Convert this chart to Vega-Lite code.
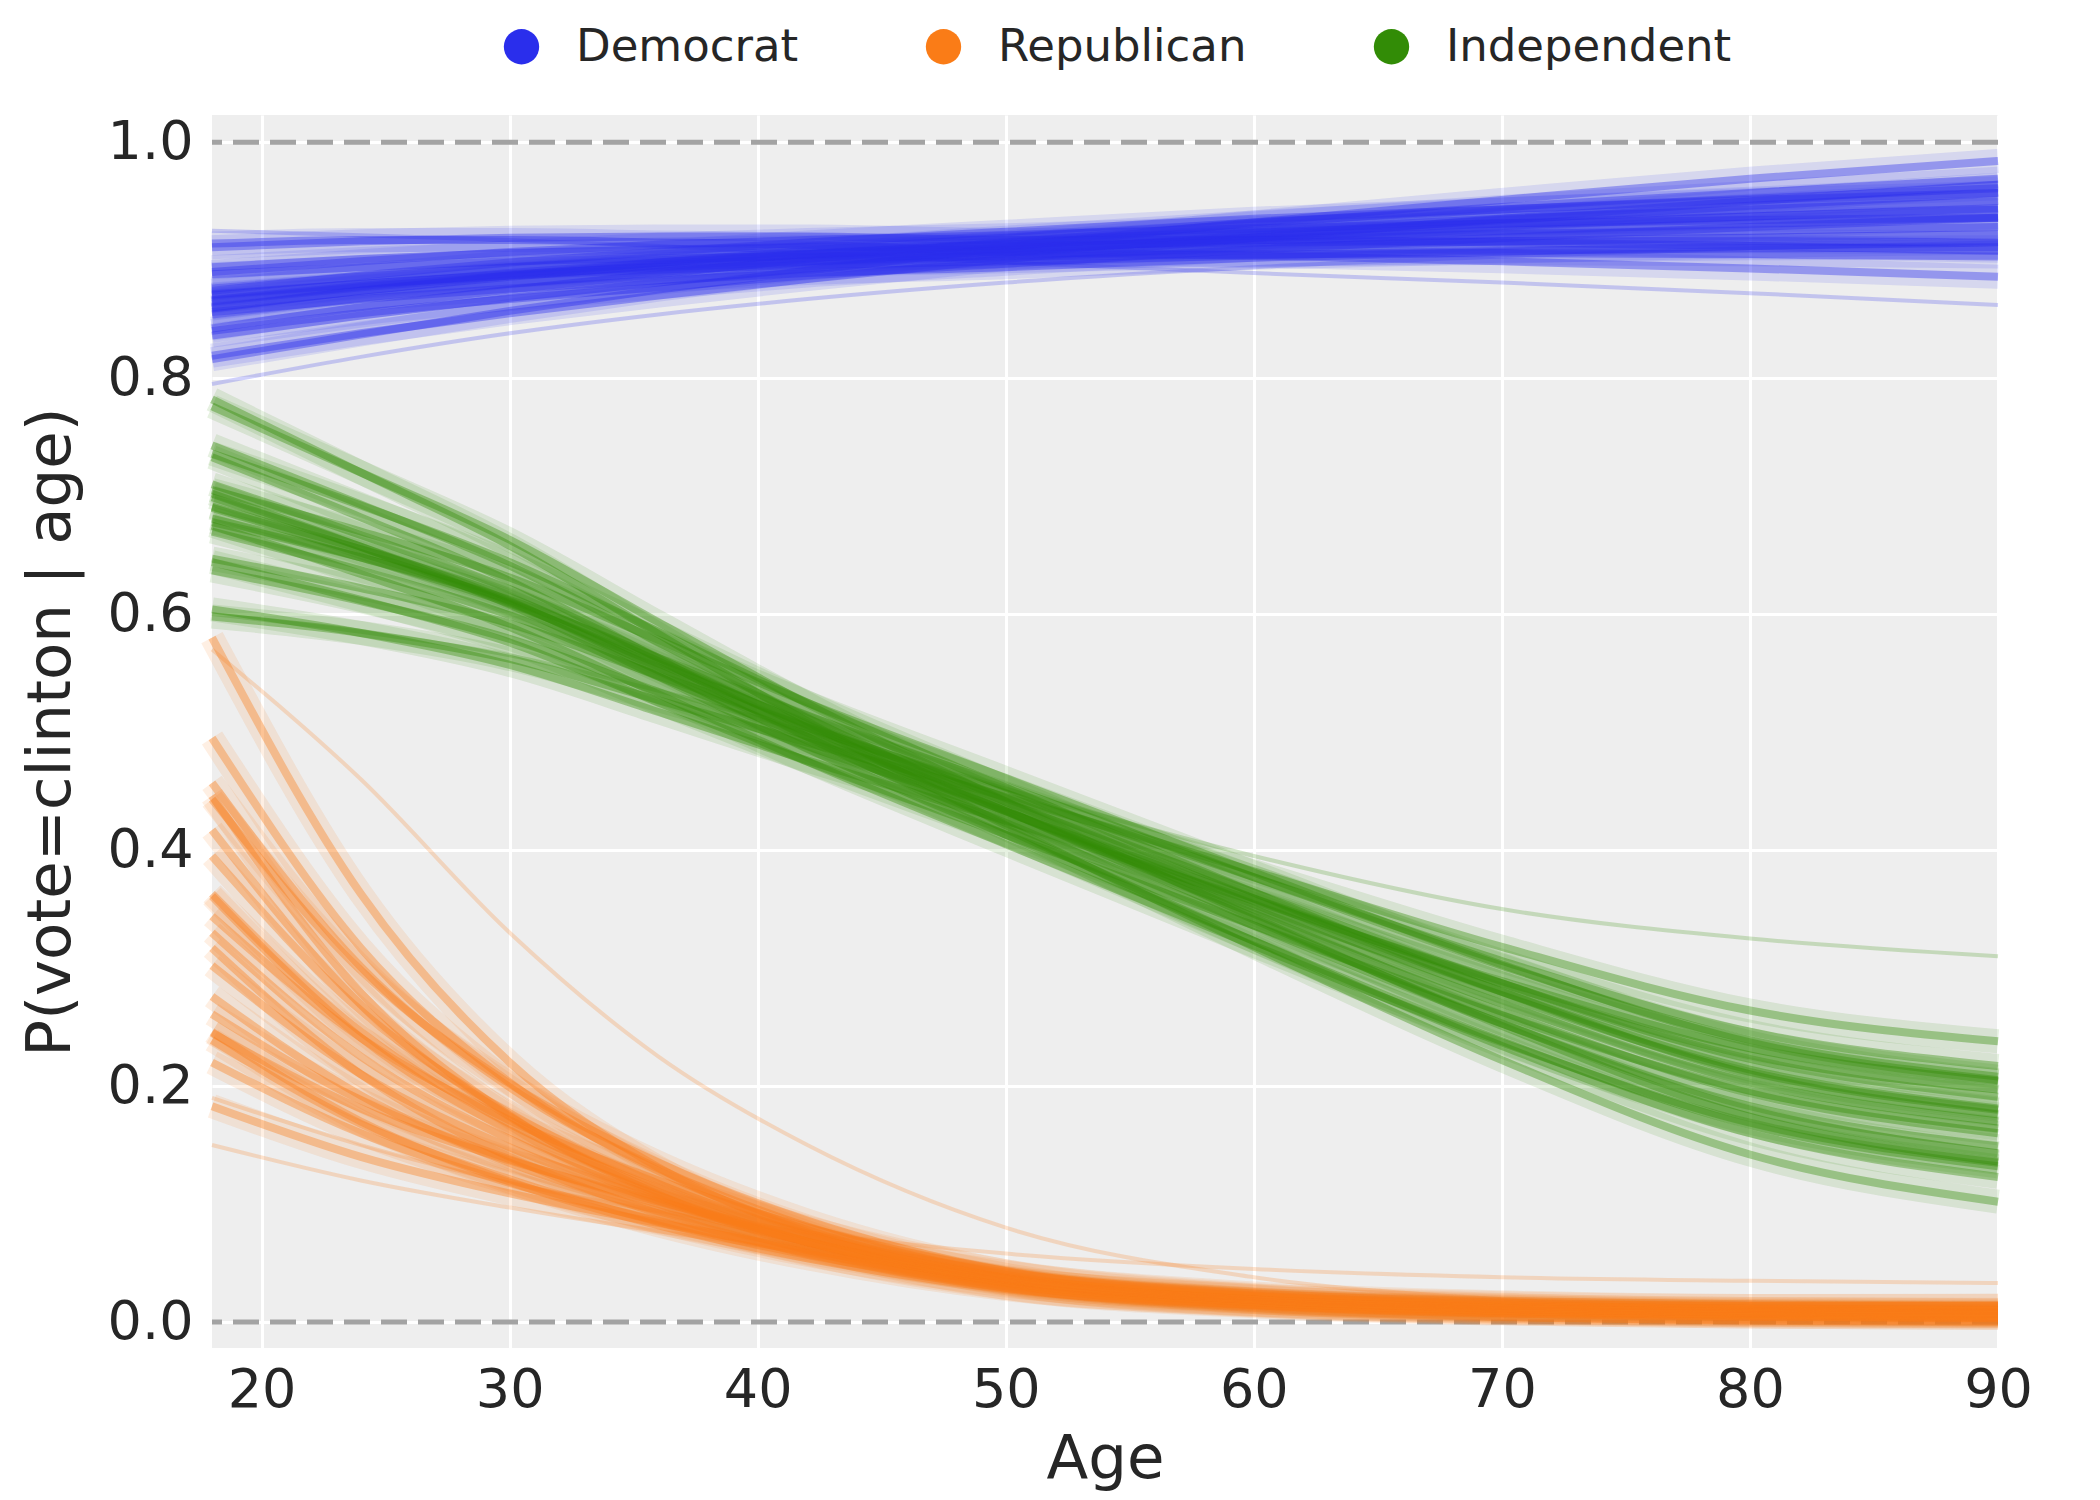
{
  "$schema": "https://vega.github.io/schema/vega-lite/v6.json",
  "width": 1786,
  "height": 1233,
  "autosize": "none",
  "padding": {"left": 212, "top": 115, "right": 102, "bottom": 152},
  "background": "#ffffff",
  "datasets": {
    "refs": [{"y": 0}, {"y": 1}],
    "curves": [
      {"party":"Democrat","draw":1,"age":18,"p":0.865},{"party":"Democrat","draw":1,"age":24,"p":0.877},{"party":"Democrat","draw":1,"age":30,"p":0.887},{"party":"Democrat","draw":1,"age":36,"p":0.895},{"party":"Democrat","draw":1,"age":42,"p":0.902},{"party":"Democrat","draw":1,"age":50,"p":0.909},{"party":"Democrat","draw":1,"age":60,"p":0.918},{"party":"Democrat","draw":1,"age":70,"p":0.925},{"party":"Democrat","draw":1,"age":80,"p":0.931},{"party":"Democrat","draw":1,"age":90,"p":0.936},
      {"party":"Democrat","draw":2,"age":18,"p":0.860},{"party":"Democrat","draw":2,"age":24,"p":0.874},{"party":"Democrat","draw":2,"age":30,"p":0.886},{"party":"Democrat","draw":2,"age":36,"p":0.896},{"party":"Democrat","draw":2,"age":42,"p":0.905},{"party":"Democrat","draw":2,"age":50,"p":0.914},{"party":"Democrat","draw":2,"age":60,"p":0.925},{"party":"Democrat","draw":2,"age":70,"p":0.935},{"party":"Democrat","draw":2,"age":80,"p":0.943},{"party":"Democrat","draw":2,"age":90,"p":0.950},
      {"party":"Democrat","draw":3,"age":18,"p":0.870},{"party":"Democrat","draw":3,"age":24,"p":0.880},{"party":"Democrat","draw":3,"age":30,"p":0.888},{"party":"Democrat","draw":3,"age":36,"p":0.894},{"party":"Democrat","draw":3,"age":42,"p":0.899},{"party":"Democrat","draw":3,"age":50,"p":0.904},{"party":"Democrat","draw":3,"age":60,"p":0.911},{"party":"Democrat","draw":3,"age":70,"p":0.916},{"party":"Democrat","draw":3,"age":80,"p":0.919},{"party":"Democrat","draw":3,"age":90,"p":0.922},
      {"party":"Democrat","draw":4,"age":18,"p":0.894},{"party":"Democrat","draw":4,"age":24,"p":0.901},{"party":"Democrat","draw":4,"age":30,"p":0.906},{"party":"Democrat","draw":4,"age":36,"p":0.909},{"party":"Democrat","draw":4,"age":42,"p":0.911},{"party":"Democrat","draw":4,"age":50,"p":0.912},{"party":"Democrat","draw":4,"age":60,"p":0.915},{"party":"Democrat","draw":4,"age":70,"p":0.916},{"party":"Democrat","draw":4,"age":80,"p":0.916},{"party":"Democrat","draw":4,"age":90,"p":0.915},
      {"party":"Democrat","draw":5,"age":18,"p":0.836},{"party":"Democrat","draw":5,"age":24,"p":0.853},{"party":"Democrat","draw":5,"age":30,"p":0.868},{"party":"Democrat","draw":5,"age":36,"p":0.881},{"party":"Democrat","draw":5,"age":42,"p":0.893},{"party":"Democrat","draw":5,"age":50,"p":0.906},{"party":"Democrat","draw":5,"age":60,"p":0.921},{"party":"Democrat","draw":5,"age":70,"p":0.934},{"party":"Democrat","draw":5,"age":80,"p":0.946},{"party":"Democrat","draw":5,"age":90,"p":0.957},
      {"party":"Democrat","draw":6,"age":18,"p":0.859},{"party":"Democrat","draw":6,"age":24,"p":0.874},{"party":"Democrat","draw":6,"age":30,"p":0.887},{"party":"Democrat","draw":6,"age":36,"p":0.898},{"party":"Democrat","draw":6,"age":42,"p":0.908},{"party":"Democrat","draw":6,"age":50,"p":0.919},{"party":"Democrat","draw":6,"age":60,"p":0.932},{"party":"Democrat","draw":6,"age":70,"p":0.943},{"party":"Democrat","draw":6,"age":80,"p":0.952},{"party":"Democrat","draw":6,"age":90,"p":0.961},
      {"party":"Democrat","draw":7,"age":18,"p":0.871},{"party":"Democrat","draw":7,"age":24,"p":0.880},{"party":"Democrat","draw":7,"age":30,"p":0.887},{"party":"Democrat","draw":7,"age":36,"p":0.892},{"party":"Democrat","draw":7,"age":42,"p":0.896},{"party":"Democrat","draw":7,"age":50,"p":0.899},{"party":"Democrat","draw":7,"age":60,"p":0.904},{"party":"Democrat","draw":7,"age":70,"p":0.908},{"party":"Democrat","draw":7,"age":80,"p":0.910},{"party":"Democrat","draw":7,"age":90,"p":0.911},
      {"party":"Democrat","draw":8,"age":18,"p":0.911},{"party":"Democrat","draw":8,"age":24,"p":0.916},{"party":"Democrat","draw":8,"age":30,"p":0.919},{"party":"Democrat","draw":8,"age":36,"p":0.920},{"party":"Democrat","draw":8,"age":42,"p":0.920},{"party":"Democrat","draw":8,"age":50,"p":0.917},{"party":"Democrat","draw":8,"age":60,"p":0.917},{"party":"Democrat","draw":8,"age":70,"p":0.915},{"party":"Democrat","draw":8,"age":80,"p":0.912},{"party":"Democrat","draw":8,"age":90,"p":0.908},
      {"party":"Democrat","draw":9,"age":18,"p":0.819},{"party":"Democrat","draw":9,"age":24,"p":0.838},{"party":"Democrat","draw":9,"age":30,"p":0.855},{"party":"Democrat","draw":9,"age":36,"p":0.870},{"party":"Democrat","draw":9,"age":42,"p":0.884},{"party":"Democrat","draw":9,"age":50,"p":0.901},{"party":"Democrat","draw":9,"age":60,"p":0.919},{"party":"Democrat","draw":9,"age":70,"p":0.935},{"party":"Democrat","draw":9,"age":80,"p":0.950},{"party":"Democrat","draw":9,"age":90,"p":0.964},
      {"party":"Democrat","draw":10,"age":18,"p":0.874},{"party":"Democrat","draw":10,"age":24,"p":0.887},{"party":"Democrat","draw":10,"age":30,"p":0.898},{"party":"Democrat","draw":10,"age":36,"p":0.907},{"party":"Democrat","draw":10,"age":42,"p":0.915},{"party":"Democrat","draw":10,"age":50,"p":0.924},{"party":"Democrat","draw":10,"age":60,"p":0.935},{"party":"Democrat","draw":10,"age":70,"p":0.943},{"party":"Democrat","draw":10,"age":80,"p":0.951},{"party":"Democrat","draw":10,"age":90,"p":0.957},
      {"party":"Democrat","draw":11,"age":18,"p":0.856},{"party":"Democrat","draw":11,"age":24,"p":0.867},{"party":"Democrat","draw":11,"age":30,"p":0.876},{"party":"Democrat","draw":11,"age":36,"p":0.883},{"party":"Democrat","draw":11,"age":42,"p":0.889},{"party":"Democrat","draw":11,"age":50,"p":0.894},{"party":"Democrat","draw":11,"age":60,"p":0.902},{"party":"Democrat","draw":11,"age":70,"p":0.907},{"party":"Democrat","draw":11,"age":80,"p":0.912},{"party":"Democrat","draw":11,"age":90,"p":0.915},
      {"party":"Democrat","draw":12,"age":18,"p":0.816},{"party":"Democrat","draw":12,"age":24,"p":0.837},{"party":"Democrat","draw":12,"age":30,"p":0.857},{"party":"Democrat","draw":12,"age":36,"p":0.875},{"party":"Democrat","draw":12,"age":42,"p":0.891},{"party":"Democrat","draw":12,"age":50,"p":0.911},{"party":"Democrat","draw":12,"age":60,"p":0.932},{"party":"Democrat","draw":12,"age":70,"p":0.951},{"party":"Democrat","draw":12,"age":80,"p":0.969},{"party":"Democrat","draw":12,"age":90,"p":0.984},
      {"party":"Democrat","draw":13,"age":18,"p":0.914},{"party":"Democrat","draw":13,"age":24,"p":0.917},{"party":"Democrat","draw":13,"age":30,"p":0.917},{"party":"Democrat","draw":13,"age":36,"p":0.915},{"party":"Democrat","draw":13,"age":42,"p":0.913},{"party":"Democrat","draw":13,"age":50,"p":0.907},{"party":"Democrat","draw":13,"age":60,"p":0.904},{"party":"Democrat","draw":13,"age":70,"p":0.899},{"party":"Democrat","draw":13,"age":80,"p":0.893},{"party":"Democrat","draw":13,"age":90,"p":0.886},
      {"party":"Democrat","draw":14,"age":18,"p":0.842},{"party":"Democrat","draw":14,"age":24,"p":0.860},{"party":"Democrat","draw":14,"age":30,"p":0.875},{"party":"Democrat","draw":14,"age":36,"p":0.888},{"party":"Democrat","draw":14,"age":42,"p":0.901},{"party":"Democrat","draw":14,"age":50,"p":0.915},{"party":"Democrat","draw":14,"age":60,"p":0.931},{"party":"Democrat","draw":14,"age":70,"p":0.945},{"party":"Democrat","draw":14,"age":80,"p":0.957},{"party":"Democrat","draw":14,"age":90,"p":0.969},
      {"party":"Democrat","draw":15,"age":18,"p":0.888},{"party":"Democrat","draw":15,"age":24,"p":0.894},{"party":"Democrat","draw":15,"age":30,"p":0.899},{"party":"Democrat","draw":15,"age":36,"p":0.902},{"party":"Democrat","draw":15,"age":42,"p":0.903},{"party":"Democrat","draw":15,"age":50,"p":0.903},{"party":"Democrat","draw":15,"age":60,"p":0.905},{"party":"Democrat","draw":15,"age":70,"p":0.906},{"party":"Democrat","draw":15,"age":80,"p":0.905},{"party":"Democrat","draw":15,"age":90,"p":0.903},
      {"party":"Democrat","draw":16,"age":18,"p":0.890},{"party":"Democrat","draw":16,"age":24,"p":0.899},{"party":"Democrat","draw":16,"age":30,"p":0.907},{"party":"Democrat","draw":16,"age":36,"p":0.913},{"party":"Democrat","draw":16,"age":42,"p":0.917},{"party":"Democrat","draw":16,"age":50,"p":0.921},{"party":"Democrat","draw":16,"age":60,"p":0.927},{"party":"Democrat","draw":16,"age":70,"p":0.931},{"party":"Democrat","draw":16,"age":80,"p":0.934},{"party":"Democrat","draw":16,"age":90,"p":0.936},
      {"party":"Democrat","draw":17,"age":18,"p":0.840},{"party":"Democrat","draw":17,"age":24,"p":0.855},{"party":"Democrat","draw":17,"age":30,"p":0.867},{"party":"Democrat","draw":17,"age":36,"p":0.877},{"party":"Democrat","draw":17,"age":42,"p":0.887},{"party":"Democrat","draw":17,"age":50,"p":0.897},{"party":"Democrat","draw":17,"age":60,"p":0.909},{"party":"Democrat","draw":17,"age":70,"p":0.919},{"party":"Democrat","draw":17,"age":80,"p":0.928},{"party":"Democrat","draw":17,"age":90,"p":0.936},
      {"party":"Democrat","draw":18,"age":18,"p":0.876},{"party":"Democrat","draw":18,"age":24,"p":0.886},{"party":"Democrat","draw":18,"age":30,"p":0.894},{"party":"Democrat","draw":18,"age":36,"p":0.900},{"party":"Democrat","draw":18,"age":42,"p":0.905},{"party":"Democrat","draw":18,"age":50,"p":0.910},{"party":"Democrat","draw":18,"age":60,"p":0.917},{"party":"Democrat","draw":18,"age":70,"p":0.922},{"party":"Democrat","draw":18,"age":80,"p":0.925},{"party":"Democrat","draw":18,"age":90,"p":0.928},
      {"party":"Democrat","draw":19,"age":18,"p":0.854},{"party":"Democrat","draw":19,"age":24,"p":0.868},{"party":"Democrat","draw":19,"age":30,"p":0.880},{"party":"Democrat","draw":19,"age":36,"p":0.890},{"party":"Democrat","draw":19,"age":42,"p":0.899},{"party":"Democrat","draw":19,"age":50,"p":0.908},{"party":"Democrat","draw":19,"age":60,"p":0.919},{"party":"Democrat","draw":19,"age":70,"p":0.929},{"party":"Democrat","draw":19,"age":80,"p":0.937},{"party":"Democrat","draw":19,"age":90,"p":0.944},
      {"party":"Democrat","draw":20,"age":18,"p":0.866},{"party":"Democrat","draw":20,"age":24,"p":0.878},{"party":"Democrat","draw":20,"age":30,"p":0.889},{"party":"Democrat","draw":20,"age":36,"p":0.898},{"party":"Democrat","draw":20,"age":42,"p":0.905},{"party":"Democrat","draw":20,"age":50,"p":0.913},{"party":"Democrat","draw":20,"age":60,"p":0.923},{"party":"Democrat","draw":20,"age":70,"p":0.931},{"party":"Democrat","draw":20,"age":80,"p":0.937},{"party":"Democrat","draw":20,"age":90,"p":0.943},
      {"party":"Democrat","draw":21,"age":18,"p":0.795},{"party":"Democrat","draw":21,"age":24,"p":0.818},{"party":"Democrat","draw":21,"age":30,"p":0.838},{"party":"Democrat","draw":21,"age":36,"p":0.854},{"party":"Democrat","draw":21,"age":42,"p":0.867},{"party":"Democrat","draw":21,"age":50,"p":0.881},{"party":"Democrat","draw":21,"age":60,"p":0.894},{"party":"Democrat","draw":21,"age":70,"p":0.903},{"party":"Democrat","draw":21,"age":80,"p":0.910},{"party":"Democrat","draw":21,"age":90,"p":0.915},
      {"party":"Democrat","draw":22,"age":18,"p":0.925},{"party":"Democrat","draw":22,"age":24,"p":0.921},{"party":"Democrat","draw":22,"age":30,"p":0.917},{"party":"Democrat","draw":22,"age":36,"p":0.912},{"party":"Democrat","draw":22,"age":42,"p":0.906},{"party":"Democrat","draw":22,"age":50,"p":0.898},{"party":"Democrat","draw":22,"age":60,"p":0.889},{"party":"Democrat","draw":22,"age":70,"p":0.881},{"party":"Democrat","draw":22,"age":80,"p":0.872},{"party":"Democrat","draw":22,"age":90,"p":0.862},

      {"party":"Republican","draw":1,"age":18,"p":0.330},{"party":"Republican","draw":1,"age":24,"p":0.225},{"party":"Republican","draw":1,"age":30,"p":0.155},{"party":"Republican","draw":1,"age":36,"p":0.105},{"party":"Republican","draw":1,"age":42,"p":0.068},{"party":"Republican","draw":1,"age":50,"p":0.035},{"party":"Republican","draw":1,"age":60,"p":0.018},{"party":"Republican","draw":1,"age":70,"p":0.011},{"party":"Republican","draw":1,"age":80,"p":0.008},{"party":"Republican","draw":1,"age":90,"p":0.007},
      {"party":"Republican","draw":2,"age":18,"p":0.395},{"party":"Republican","draw":2,"age":24,"p":0.264},{"party":"Republican","draw":2,"age":30,"p":0.177},{"party":"Republican","draw":2,"age":36,"p":0.117},{"party":"Republican","draw":2,"age":42,"p":0.074},{"party":"Republican","draw":2,"age":50,"p":0.037},{"party":"Republican","draw":2,"age":60,"p":0.0185},{"party":"Republican","draw":2,"age":70,"p":0.011},{"party":"Republican","draw":2,"age":80,"p":0.0078},{"party":"Republican","draw":2,"age":90,"p":0.0066},
      {"party":"Republican","draw":3,"age":18,"p":0.276},{"party":"Republican","draw":3,"age":24,"p":0.192},{"party":"Republican","draw":3,"age":30,"p":0.135},{"party":"Republican","draw":3,"age":36,"p":0.094},{"party":"Republican","draw":3,"age":42,"p":0.062},{"party":"Republican","draw":3,"age":50,"p":0.033},{"party":"Republican","draw":3,"age":60,"p":0.0175},{"party":"Republican","draw":3,"age":70,"p":0.011},{"party":"Republican","draw":3,"age":80,"p":0.0082},{"party":"Republican","draw":3,"age":90,"p":0.0074},
      {"party":"Republican","draw":4,"age":18,"p":0.261},{"party":"Republican","draw":4,"age":24,"p":0.188},{"party":"Republican","draw":4,"age":30,"p":0.138},{"party":"Republican","draw":4,"age":36,"p":0.100},{"party":"Republican","draw":4,"age":42,"p":0.068},{"party":"Republican","draw":4,"age":50,"p":0.038},{"party":"Republican","draw":4,"age":60,"p":0.0212},{"party":"Republican","draw":4,"age":70,"p":0.0141},{"party":"Republican","draw":4,"age":80,"p":0.0111},{"party":"Republican","draw":4,"age":90,"p":0.0105},
      {"party":"Republican","draw":5,"age":18,"p":0.417},{"party":"Republican","draw":5,"age":24,"p":0.269},{"party":"Republican","draw":5,"age":30,"p":0.174},{"party":"Republican","draw":5,"age":36,"p":0.110},{"party":"Republican","draw":5,"age":42,"p":0.068},{"party":"Republican","draw":5,"age":50,"p":0.032},{"party":"Republican","draw":5,"age":60,"p":0.0153},{"party":"Republican","draw":5,"age":70,"p":0.0086},{"party":"Republican","draw":5,"age":80,"p":0.0058},{"party":"Republican","draw":5,"age":90,"p":0.0047},
      {"party":"Republican","draw":6,"age":18,"p":0.457},{"party":"Republican","draw":6,"age":24,"p":0.301},{"party":"Republican","draw":6,"age":30,"p":0.199},{"party":"Republican","draw":6,"age":36,"p":0.130},{"party":"Republican","draw":6,"age":42,"p":0.081},{"party":"Republican","draw":6,"age":50,"p":0.040},{"party":"Republican","draw":6,"age":60,"p":0.0194},{"party":"Republican","draw":6,"age":70,"p":0.0113},{"party":"Republican","draw":6,"age":80,"p":0.0078},{"party":"Republican","draw":6,"age":90,"p":0.0065},
      {"party":"Republican","draw":7,"age":18,"p":0.239},{"party":"Republican","draw":7,"age":24,"p":0.168},{"party":"Republican","draw":7,"age":30,"p":0.121},{"party":"Republican","draw":7,"age":36,"p":0.085},{"party":"Republican","draw":7,"age":42,"p":0.057},{"party":"Republican","draw":7,"age":50,"p":0.031},{"party":"Republican","draw":7,"age":60,"p":0.0167},{"party":"Republican","draw":7,"age":70,"p":0.0107},{"party":"Republican","draw":7,"age":80,"p":0.0082},{"party":"Republican","draw":7,"age":90,"p":0.0075},
      {"party":"Republican","draw":8,"age":18,"p":0.245},{"party":"Republican","draw":8,"age":24,"p":0.181},{"party":"Republican","draw":8,"age":30,"p":0.137},{"party":"Republican","draw":8,"age":36,"p":0.102},{"party":"Republican","draw":8,"age":42,"p":0.072},{"party":"Republican","draw":8,"age":50,"p":0.042},{"party":"Republican","draw":8,"age":60,"p":0.0243},{"party":"Republican","draw":8,"age":70,"p":0.0167},{"party":"Republican","draw":8,"age":80,"p":0.0137},{"party":"Republican","draw":8,"age":90,"p":0.0135},
      {"party":"Republican","draw":9,"age":18,"p":0.446},{"party":"Republican","draw":9,"age":24,"p":0.279},{"party":"Republican","draw":9,"age":30,"p":0.175},{"party":"Republican","draw":9,"age":36,"p":0.108},{"party":"Republican","draw":9,"age":42,"p":0.064},{"party":"Republican","draw":9,"age":50,"p":0.029},{"party":"Republican","draw":9,"age":60,"p":0.0133},{"party":"Republican","draw":9,"age":70,"p":0.0072},{"party":"Republican","draw":9,"age":80,"p":0.0047},{"party":"Republican","draw":9,"age":90,"p":0.0036},
      {"party":"Republican","draw":10,"age":18,"p":0.443},{"party":"Republican","draw":10,"age":24,"p":0.298},{"party":"Republican","draw":10,"age":30,"p":0.202},{"party":"Republican","draw":10,"age":36,"p":0.135},{"party":"Republican","draw":10,"age":42,"p":0.086},{"party":"Republican","draw":10,"age":50,"p":0.043},{"party":"Republican","draw":10,"age":60,"p":0.0219},{"party":"Republican","draw":10,"age":70,"p":0.0131},{"party":"Republican","draw":10,"age":80,"p":0.0093},{"party":"Republican","draw":10,"age":90,"p":0.008},
      {"party":"Republican","draw":11,"age":18,"p":0.246},{"party":"Republican","draw":11,"age":24,"p":0.170},{"party":"Republican","draw":11,"age":30,"p":0.119},{"party":"Republican","draw":11,"age":36,"p":0.082},{"party":"Republican","draw":11,"age":42,"p":0.054},{"party":"Republican","draw":11,"age":50,"p":0.028},{"party":"Republican","draw":11,"age":60,"p":0.0148},{"party":"Republican","draw":11,"age":70,"p":0.0092},{"party":"Republican","draw":11,"age":80,"p":0.0068},{"party":"Republican","draw":11,"age":90,"p":0.0061},
      {"party":"Republican","draw":12,"age":18,"p":0.580},{"party":"Republican","draw":12,"age":24,"p":0.363},{"party":"Republican","draw":12,"age":30,"p":0.220},{"party":"Republican","draw":12,"age":36,"p":0.131},{"party":"Republican","draw":12,"age":42,"p":0.076},{"party":"Republican","draw":12,"age":50,"p":0.033},{"party":"Republican","draw":12,"age":60,"p":0.0146},{"party":"Republican","draw":12,"age":70,"p":0.0076},{"party":"Republican","draw":12,"age":80,"p":0.0047},{"party":"Republican","draw":12,"age":90,"p":0.0035},
      {"party":"Republican","draw":13,"age":18,"p":0.183},{"party":"Republican","draw":13,"age":24,"p":0.140},{"party":"Republican","draw":13,"age":30,"p":0.109},{"party":"Republican","draw":13,"age":36,"p":0.084},{"party":"Republican","draw":13,"age":42,"p":0.061},{"party":"Republican","draw":13,"age":50,"p":0.037},{"party":"Republican","draw":13,"age":60,"p":0.0222},{"party":"Republican","draw":13,"age":70,"p":0.0159},{"party":"Republican","draw":13,"age":80,"p":0.0136},{"party":"Republican","draw":13,"age":90,"p":0.014},
      {"party":"Republican","draw":14,"age":18,"p":0.495},{"party":"Republican","draw":14,"age":24,"p":0.317},{"party":"Republican","draw":14,"age":30,"p":0.203},{"party":"Republican","draw":14,"age":36,"p":0.128},{"party":"Republican","draw":14,"age":42,"p":0.078},{"party":"Republican","draw":14,"age":50,"p":0.037},{"party":"Republican","draw":14,"age":60,"p":0.0172},{"party":"Republican","draw":14,"age":70,"p":0.0096},{"party":"Republican","draw":14,"age":80,"p":0.0064},{"party":"Republican","draw":14,"age":90,"p":0.0051},
      {"party":"Republican","draw":15,"age":18,"p":0.220},{"party":"Republican","draw":15,"age":24,"p":0.160},{"party":"Republican","draw":15,"age":30,"p":0.118},{"party":"Republican","draw":15,"age":36,"p":0.086},{"party":"Republican","draw":15,"age":42,"p":0.059},{"party":"Republican","draw":15,"age":50,"p":0.034},{"party":"Republican","draw":15,"age":60,"p":0.0188},{"party":"Republican","draw":15,"age":70,"p":0.0126},{"party":"Republican","draw":15,"age":80,"p":0.010},{"party":"Republican","draw":15,"age":90,"p":0.0096},
      {"party":"Republican","draw":16,"age":18,"p":0.344},{"party":"Republican","draw":16,"age":24,"p":0.241},{"party":"Republican","draw":16,"age":30,"p":0.171},{"party":"Republican","draw":16,"age":36,"p":0.120},{"party":"Republican","draw":16,"age":42,"p":0.080},{"party":"Republican","draw":16,"age":50,"p":0.043},{"party":"Republican","draw":16,"age":60,"p":0.0229},{"party":"Republican","draw":16,"age":70,"p":0.0146},{"party":"Republican","draw":16,"age":80,"p":0.011},{"party":"Republican","draw":16,"age":90,"p":0.010},
      {"party":"Republican","draw":17,"age":18,"p":0.317},{"party":"Republican","draw":17,"age":24,"p":0.210},{"party":"Republican","draw":17,"age":30,"p":0.140},{"party":"Republican","draw":17,"age":36,"p":0.092},{"party":"Republican","draw":17,"age":42,"p":0.058},{"party":"Republican","draw":17,"age":50,"p":0.029},{"party":"Republican","draw":17,"age":60,"p":0.0142},{"party":"Republican","draw":17,"age":70,"p":0.0083},{"party":"Republican","draw":17,"age":80,"p":0.0058},{"party":"Republican","draw":17,"age":90,"p":0.0049},
      {"party":"Republican","draw":18,"age":18,"p":0.302},{"party":"Republican","draw":18,"age":24,"p":0.210},{"party":"Republican","draw":18,"age":30,"p":0.148},{"party":"Republican","draw":18,"age":36,"p":0.103},{"party":"Republican","draw":18,"age":42,"p":0.068},{"party":"Republican","draw":18,"age":50,"p":0.036},{"party":"Republican","draw":18,"age":60,"p":0.0191},{"party":"Republican","draw":18,"age":70,"p":0.012},{"party":"Republican","draw":18,"age":80,"p":0.009},{"party":"Republican","draw":18,"age":90,"p":0.0081},
      {"party":"Republican","draw":19,"age":18,"p":0.361},{"party":"Republican","draw":19,"age":24,"p":0.241},{"party":"Republican","draw":19,"age":30,"p":0.162},{"party":"Republican","draw":19,"age":36,"p":0.107},{"party":"Republican","draw":19,"age":42,"p":0.068},{"party":"Republican","draw":19,"age":50,"p":0.034},{"party":"Republican","draw":19,"age":60,"p":0.017},{"party":"Republican","draw":19,"age":70,"p":0.010},{"party":"Republican","draw":19,"age":80,"p":0.0071},{"party":"Republican","draw":19,"age":90,"p":0.006},
      {"party":"Republican","draw":20,"age":18,"p":0.363},{"party":"Republican","draw":20,"age":24,"p":0.246},{"party":"Republican","draw":20,"age":30,"p":0.168},{"party":"Republican","draw":20,"age":36,"p":0.113},{"party":"Republican","draw":20,"age":42,"p":0.073},{"party":"Republican","draw":20,"age":50,"p":0.037},{"party":"Republican","draw":20,"age":60,"p":0.0188},{"party":"Republican","draw":20,"age":70,"p":0.0114},{"party":"Republican","draw":20,"age":80,"p":0.0082},{"party":"Republican","draw":20,"age":90,"p":0.0071},
      {"party":"Republican","draw":21,"age":18,"p":0.570},{"party":"Republican","draw":21,"age":24,"p":0.460},{"party":"Republican","draw":21,"age":30,"p":0.330},{"party":"Republican","draw":21,"age":36,"p":0.225},{"party":"Republican","draw":21,"age":42,"p":0.150},{"party":"Republican","draw":21,"age":50,"p":0.080},{"party":"Republican","draw":21,"age":60,"p":0.038},{"party":"Republican","draw":21,"age":70,"p":0.019},{"party":"Republican","draw":21,"age":80,"p":0.010},{"party":"Republican","draw":21,"age":90,"p":0.006},
      {"party":"Republican","draw":22,"age":18,"p":0.150},{"party":"Republican","draw":22,"age":24,"p":0.120},{"party":"Republican","draw":22,"age":30,"p":0.097},{"party":"Republican","draw":22,"age":36,"p":0.077},{"party":"Republican","draw":22,"age":42,"p":0.059},{"party":"Republican","draw":22,"age":50,"p":0.038},{"party":"Republican","draw":22,"age":60,"p":0.023},{"party":"Republican","draw":22,"age":70,"p":0.016},{"party":"Republican","draw":22,"age":80,"p":0.013},{"party":"Republican","draw":22,"age":90,"p":0.012},
      {"party":"Republican","draw":23,"age":18,"p":0.190},{"party":"Republican","draw":23,"age":24,"p":0.150},{"party":"Republican","draw":23,"age":30,"p":0.118},{"party":"Republican","draw":23,"age":36,"p":0.094},{"party":"Republican","draw":23,"age":42,"p":0.076},{"party":"Republican","draw":23,"age":50,"p":0.058},{"party":"Republican","draw":23,"age":60,"p":0.045},{"party":"Republican","draw":23,"age":70,"p":0.038},{"party":"Republican","draw":23,"age":80,"p":0.035},{"party":"Republican","draw":23,"age":90,"p":0.033},

      {"party":"Independent","draw":1,"age":18,"p":0.690},{"party":"Independent","draw":1,"age":24,"p":0.652},{"party":"Independent","draw":1,"age":30,"p":0.610},{"party":"Independent","draw":1,"age":36,"p":0.555},{"party":"Independent","draw":1,"age":42,"p":0.500},{"party":"Independent","draw":1,"age":50,"p":0.433},{"party":"Independent","draw":1,"age":60,"p":0.350},{"party":"Independent","draw":1,"age":70,"p":0.270},{"party":"Independent","draw":1,"age":80,"p":0.203},{"party":"Independent","draw":1,"age":90,"p":0.170},
      {"party":"Independent","draw":2,"age":18,"p":0.681},{"party":"Independent","draw":2,"age":24,"p":0.648},{"party":"Independent","draw":2,"age":30,"p":0.609},{"party":"Independent","draw":2,"age":36,"p":0.558},{"party":"Independent","draw":2,"age":42,"p":0.507},{"party":"Independent","draw":2,"age":50,"p":0.444},{"party":"Independent","draw":2,"age":60,"p":0.364},{"party":"Independent","draw":2,"age":70,"p":0.287},{"party":"Independent","draw":2,"age":80,"p":0.223},{"party":"Independent","draw":2,"age":90,"p":0.191},
      {"party":"Independent","draw":3,"age":18,"p":0.699},{"party":"Independent","draw":3,"age":24,"p":0.657},{"party":"Independent","draw":3,"age":30,"p":0.611},{"party":"Independent","draw":3,"age":36,"p":0.552},{"party":"Independent","draw":3,"age":42,"p":0.493},{"party":"Independent","draw":3,"age":50,"p":0.423},{"party":"Independent","draw":3,"age":60,"p":0.336},{"party":"Independent","draw":3,"age":70,"p":0.253},{"party":"Independent","draw":3,"age":80,"p":0.183},{"party":"Independent","draw":3,"age":90,"p":0.149},
      {"party":"Independent","draw":4,"age":18,"p":0.743},{"party":"Independent","draw":4,"age":24,"p":0.693},{"party":"Independent","draw":4,"age":30,"p":0.641},{"party":"Independent","draw":4,"age":36,"p":0.576},{"party":"Independent","draw":4,"age":42,"p":0.512},{"party":"Independent","draw":4,"age":50,"p":0.434},{"party":"Independent","draw":4,"age":60,"p":0.341},{"party":"Independent","draw":4,"age":70,"p":0.253},{"party":"Independent","draw":4,"age":80,"p":0.180},{"party":"Independent","draw":4,"age":90,"p":0.143},
      {"party":"Independent","draw":5,"age":18,"p":0.637},{"party":"Independent","draw":5,"age":24,"p":0.611},{"party":"Independent","draw":5,"age":30,"p":0.579},{"party":"Independent","draw":5,"age":36,"p":0.534},{"party":"Independent","draw":5,"age":42,"p":0.488},{"party":"Independent","draw":5,"age":50,"p":0.432},{"party":"Independent","draw":5,"age":60,"p":0.359},{"party":"Independent","draw":5,"age":70,"p":0.287},{"party":"Independent","draw":5,"age":80,"p":0.226},{"party":"Independent","draw":5,"age":90,"p":0.197},
      {"party":"Independent","draw":6,"age":18,"p":0.678},{"party":"Independent","draw":6,"age":24,"p":0.648},{"party":"Independent","draw":6,"age":30,"p":0.612},{"party":"Independent","draw":6,"age":36,"p":0.563},{"party":"Independent","draw":6,"age":42,"p":0.514},{"party":"Independent","draw":6,"age":50,"p":0.454},{"party":"Independent","draw":6,"age":60,"p":0.377},{"party":"Independent","draw":6,"age":70,"p":0.302},{"party":"Independent","draw":6,"age":80,"p":0.239},{"party":"Independent","draw":6,"age":90,"p":0.208},
      {"party":"Independent","draw":7,"age":18,"p":0.702},{"party":"Independent","draw":7,"age":24,"p":0.657},{"party":"Independent","draw":7,"age":30,"p":0.608},{"party":"Independent","draw":7,"age":36,"p":0.547},{"party":"Independent","draw":7,"age":42,"p":0.486},{"party":"Independent","draw":7,"age":50,"p":0.413},{"party":"Independent","draw":7,"age":60,"p":0.323},{"party":"Independent","draw":7,"age":70,"p":0.238},{"party":"Independent","draw":7,"age":80,"p":0.167},{"party":"Independent","draw":7,"age":90,"p":0.132},
      {"party":"Independent","draw":8,"age":18,"p":0.776},{"party":"Independent","draw":8,"age":24,"p":0.720},{"party":"Independent","draw":8,"age":30,"p":0.663},{"party":"Independent","draw":8,"age":36,"p":0.593},{"party":"Independent","draw":8,"age":42,"p":0.524},{"party":"Independent","draw":8,"age":50,"p":0.441},{"party":"Independent","draw":8,"age":60,"p":0.343},{"party":"Independent","draw":8,"age":70,"p":0.251},{"party":"Independent","draw":8,"age":80,"p":0.174},{"party":"Independent","draw":8,"age":90,"p":0.136},
      {"party":"Independent","draw":9,"age":18,"p":0.604},{"party":"Independent","draw":9,"age":24,"p":0.584},{"party":"Independent","draw":9,"age":30,"p":0.557},{"party":"Independent","draw":9,"age":36,"p":0.517},{"party":"Independent","draw":9,"age":42,"p":0.476},{"party":"Independent","draw":9,"age":50,"p":0.425},{"party":"Independent","draw":9,"age":60,"p":0.357},{"party":"Independent","draw":9,"age":70,"p":0.289},{"party":"Independent","draw":9,"age":80,"p":0.232},{"party":"Independent","draw":9,"age":90,"p":0.204},
      {"party":"Independent","draw":10,"age":18,"p":0.705},{"party":"Independent","draw":10,"age":24,"p":0.670},{"party":"Independent","draw":10,"age":30,"p":0.631},{"party":"Independent","draw":10,"age":36,"p":0.578},{"party":"Independent","draw":10,"age":42,"p":0.525},{"party":"Independent","draw":10,"age":50,"p":0.461},{"party":"Independent","draw":10,"age":60,"p":0.381},{"party":"Independent","draw":10,"age":70,"p":0.303},{"party":"Independent","draw":10,"age":80,"p":0.237},{"party":"Independent","draw":10,"age":90,"p":0.205},
      {"party":"Independent","draw":11,"age":18,"p":0.675},{"party":"Independent","draw":11,"age":24,"p":0.634},{"party":"Independent","draw":11,"age":30,"p":0.589},{"party":"Independent","draw":11,"age":36,"p":0.532},{"party":"Independent","draw":11,"age":42,"p":0.475},{"party":"Independent","draw":11,"age":50,"p":0.405},{"party":"Independent","draw":11,"age":60,"p":0.319},{"party":"Independent","draw":11,"age":70,"p":0.237},{"party":"Independent","draw":11,"age":80,"p":0.169},{"party":"Independent","draw":11,"age":90,"p":0.135},
      {"party":"Independent","draw":12,"age":18,"p":0.598},{"party":"Independent","draw":12,"age":24,"p":0.584},{"party":"Independent","draw":12,"age":30,"p":0.562},{"party":"Independent","draw":12,"age":36,"p":0.527},{"party":"Independent","draw":12,"age":42,"p":0.491},{"party":"Independent","draw":12,"age":50,"p":0.445},{"party":"Independent","draw":12,"age":60,"p":0.382},{"party":"Independent","draw":12,"age":70,"p":0.318},{"party":"Independent","draw":12,"age":80,"p":0.264},{"party":"Independent","draw":12,"age":90,"p":0.238},
      {"party":"Independent","draw":13,"age":18,"p":0.782},{"party":"Independent","draw":13,"age":24,"p":0.720},{"party":"Independent","draw":13,"age":30,"p":0.658},{"party":"Independent","draw":13,"age":36,"p":0.583},{"party":"Independent","draw":13,"age":42,"p":0.509},{"party":"Independent","draw":13,"age":50,"p":0.421},{"party":"Independent","draw":13,"age":60,"p":0.318},{"party":"Independent","draw":13,"age":70,"p":0.222},{"party":"Independent","draw":13,"age":80,"p":0.142},{"party":"Independent","draw":13,"age":90,"p":0.102},
      {"party":"Independent","draw":14,"age":18,"p":0.647},{"party":"Independent","draw":14,"age":24,"p":0.622},{"party":"Independent","draw":14,"age":30,"p":0.592},{"party":"Independent","draw":14,"age":36,"p":0.548},{"party":"Independent","draw":14,"age":42,"p":0.504},{"party":"Independent","draw":14,"age":50,"p":0.448},{"party":"Independent","draw":14,"age":60,"p":0.377},{"party":"Independent","draw":14,"age":70,"p":0.306},{"party":"Independent","draw":14,"age":80,"p":0.246},{"party":"Independent","draw":14,"age":90,"p":0.217},
      {"party":"Independent","draw":15,"age":18,"p":0.733},{"party":"Independent","draw":15,"age":24,"p":0.682},{"party":"Independent","draw":15,"age":30,"p":0.628},{"party":"Independent","draw":15,"age":36,"p":0.562},{"party":"Independent","draw":15,"age":42,"p":0.496},{"party":"Independent","draw":15,"age":50,"p":0.418},{"party":"Independent","draw":15,"age":60,"p":0.323},{"party":"Independent","draw":15,"age":70,"p":0.234},{"party":"Independent","draw":15,"age":80,"p":0.160},{"party":"Independent","draw":15,"age":90,"p":0.123},
      {"party":"Independent","draw":16,"age":18,"p":0.736},{"party":"Independent","draw":16,"age":24,"p":0.692},{"party":"Independent","draw":16,"age":30,"p":0.644},{"party":"Independent","draw":16,"age":36,"p":0.585},{"party":"Independent","draw":16,"age":42,"p":0.525},{"party":"Independent","draw":16,"age":50,"p":0.453},{"party":"Independent","draw":16,"age":60,"p":0.364},{"party":"Independent","draw":16,"age":70,"p":0.280},{"party":"Independent","draw":16,"age":80,"p":0.210},{"party":"Independent","draw":16,"age":90,"p":0.176},
      {"party":"Independent","draw":17,"age":18,"p":0.644},{"party":"Independent","draw":17,"age":24,"p":0.612},{"party":"Independent","draw":17,"age":30,"p":0.576},{"party":"Independent","draw":17,"age":36,"p":0.525},{"party":"Independent","draw":17,"age":42,"p":0.475},{"party":"Independent","draw":17,"age":50,"p":0.413},{"party":"Independent","draw":17,"age":60,"p":0.336},{"party":"Independent","draw":17,"age":70,"p":0.260},{"party":"Independent","draw":17,"age":80,"p":0.196},{"party":"Independent","draw":17,"age":90,"p":0.164},
      {"party":"Independent","draw":18,"age":18,"p":0.710},{"party":"Independent","draw":18,"age":24,"p":0.667},{"party":"Independent","draw":18,"age":30,"p":0.621},{"party":"Independent","draw":18,"age":36,"p":0.563},{"party":"Independent","draw":18,"age":42,"p":0.504},{"party":"Independent","draw":18,"age":50,"p":0.433},{"party":"Independent","draw":18,"age":60,"p":0.346},{"party":"Independent","draw":18,"age":70,"p":0.263},{"party":"Independent","draw":18,"age":80,"p":0.194},{"party":"Independent","draw":18,"age":90,"p":0.160},
      {"party":"Independent","draw":19,"age":18,"p":0.670},{"party":"Independent","draw":19,"age":24,"p":0.637},{"party":"Independent","draw":19,"age":30,"p":0.599},{"party":"Independent","draw":19,"age":36,"p":0.547},{"party":"Independent","draw":19,"age":42,"p":0.496},{"party":"Independent","draw":19,"age":50,"p":0.433},{"party":"Independent","draw":19,"age":60,"p":0.354},{"party":"Independent","draw":19,"age":70,"p":0.277},{"party":"Independent","draw":19,"age":80,"p":0.212},{"party":"Independent","draw":19,"age":90,"p":0.180},
      {"party":"Independent","draw":20,"age":18,"p":0.691},{"party":"Independent","draw":20,"age":24,"p":0.655},{"party":"Independent","draw":20,"age":30,"p":0.614},{"party":"Independent","draw":20,"age":36,"p":0.560},{"party":"Independent","draw":20,"age":42,"p":0.506},{"party":"Independent","draw":20,"age":50,"p":0.441},{"party":"Independent","draw":20,"age":60,"p":0.359},{"party":"Independent","draw":20,"age":70,"p":0.280},{"party":"Independent","draw":20,"age":80,"p":0.214},{"party":"Independent","draw":20,"age":90,"p":0.181},
      {"party":"Independent","draw":21,"age":18,"p":0.600},{"party":"Independent","draw":21,"age":24,"p":0.585},{"party":"Independent","draw":21,"age":30,"p":0.565},{"party":"Independent","draw":21,"age":36,"p":0.535},{"party":"Independent","draw":21,"age":42,"p":0.500},{"party":"Independent","draw":21,"age":50,"p":0.452},{"party":"Independent","draw":21,"age":60,"p":0.395},{"party":"Independent","draw":21,"age":70,"p":0.350},{"party":"Independent","draw":21,"age":80,"p":0.325},{"party":"Independent","draw":21,"age":90,"p":0.310}
    ]
  },
  "layer": [
    {
      "data": {"name": "refs"},
      "mark": {"type": "rule", "color": "#a3a3a3", "strokeWidth": 5, "strokeDash": [26, 11]},
      "encoding": {
        "y": {"field": "y", "type": "quantitative"}
      }
    },
    {
      "data": {"name": "curves"},
      "encoding": {
        "x": {
          "field": "age", "type": "quantitative",
          "scale": {"domain": [18, 90], "nice": false, "zero": false},
          "axis": {"title": "Age", "values": [20, 30, 40, 50, 60, 70, 80, 90], "labelFlush": false, "labelOverlap": false, "labelPadding": 15, "titlePadding": 12}
        },
        "y": {
          "field": "p", "type": "quantitative",
          "scale": {"domain": [-0.022, 1.023], "nice": false, "zero": false},
          "axis": {"title": "P(vote=clinton | age)", "values": [0, 0.2, 0.4, 0.6, 0.8, 1.0], "format": ".1f", "labelFlush": false, "labelOverlap": false, "labelPadding": 19, "titlePadding": 25}
        },
        "color": {
          "field": "party", "type": "nominal",
          "scale": {"domain": ["Democrat", "Republican", "Independent"], "range": ["#2a2eec", "#fa7c17", "#328c06"]},
          "legend": {
            "title": null,
            "orient": "none",
            "direction": "horizontal",
            "legendX": 287,
            "legendY": -91,
            "padding": 0,
            "symbolType": "circle",
            "symbolSize": 1250,
            "symbolStrokeWidth": 0,
            "symbolOpacity": 1,
            "labelFontSize": 45,
            "labelLimit": 0,
            "labelOffset": 32,
            "labelColor": "#262626",
            "columnPadding": 122,
            "encode": {
              "symbols": {"update": {"fill": {"scale": "color", "field": "value"}, "opacity": {"value": 1}, "strokeWidth": {"value": 0}}}
            }
          }
        },
        "detail": {"field": "draw", "type": "nominal"}
      },
      "layer": [
        {
          "transform": [{"filter": "datum.draw <= 20"}],
          "mark": {"type": "line", "strokeWidth": 24, "opacity": 0.12, "interpolate": "monotone"}
        },
        {
          "transform": [{"filter": "datum.draw > 20"}],
          "mark": {"type": "line", "strokeWidth": 4, "opacity": 0.22, "interpolate": "monotone"}
        },
        {
          "transform": [{"filter": "datum.draw <= 20"}],
          "mark": {"type": "line", "strokeWidth": 8, "opacity": 0.38, "interpolate": "monotone"}
        }
      ]
    }
  ],
  "config": {
    "font": "DejaVu Sans",
    "view": {"fill": "#eeeeee", "stroke": null},
    "axis": {
      "grid": true,
      "gridColor": "#ffffff",
      "gridWidth": 3,
      "domain": false,
      "ticks": false,
      "labelFontSize": 54,
      "labelColor": "#262626",
      "titleFontSize": 61,
      "titleFontWeight": "normal",
      "titleColor": "#262626"
    }
  }
}
